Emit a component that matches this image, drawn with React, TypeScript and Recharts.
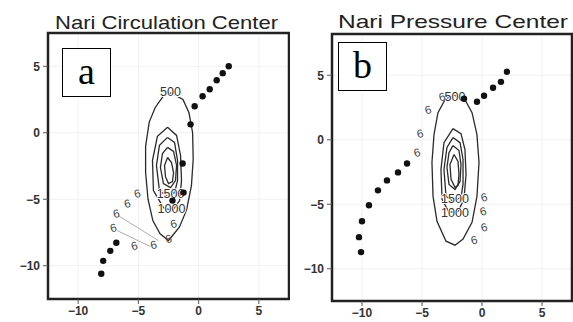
import React from "react";
import {
  ScatterChart,
  Scatter,
  XAxis,
  YAxis,
  CartesianGrid,
  ReferenceArea,
} from "recharts";

const xTicks = [-10, -5, 0, 5];
const yTicks = [-10, -5, 0, 5];

// ---- panel a: circulation center ----
const aDots = [
  { x: 2.5, y: 5.0 },
  { x: 2.0, y: 4.48 },
  { x: 1.5, y: 3.95 },
  { x: 0.92, y: 3.27 },
  { x: 0.33, y: 2.74 },
  { x: -0.33, y: 1.99 },
  { x: -0.67, y: 0.63 },
  { x: -1.33, y: -2.31 },
  { x: -1.25, y: -4.5 },
  { x: -2.17, y: -5.1 },
  { x: -6.83, y: -8.27 },
  { x: -7.33, y: -8.88 },
  { x: -7.92, y: -9.63 },
  { x: -8.08, y: -10.6 },
];

const aSixes = [
  { x: -5.08, y: -4.58 },
  { x: -5.92, y: -5.33 },
  { x: -6.83, y: -6.08 },
  { x: -7.08, y: -7.14 },
  { x: -5.33, y: -8.5 },
  { x: -3.75, y: -8.42 },
  { x: -2.08, y: -6.84 },
  { x: -2.5, y: -7.97 },
];

const aThinLines = [
  [
    { x: -6.67, y: -6.23 },
    { x: -3.33, y: -8.11 },
  ],
  [
    { x: -6.75, y: -7.36 },
    { x: -4.0, y: -8.56 },
  ],
];

const aC500 = [
  { x: -2.3, y: 3.0 }, { x: -1.3, y: 2.5 }, { x: -0.8, y: 1.5 }, { x: -0.5, y: 0 },
  { x: -0.45, y: -2 }, { x: -0.6, y: -4 }, { x: -1.0, y: -5.8 }, { x: -1.6, y: -7.1 },
  { x: -2.5, y: -8.1 }, { x: -3.2, y: -7.6 }, { x: -3.8, y: -6.6 }, { x: -4.2, y: -5 },
  { x: -4.4, y: -3 }, { x: -4.4, y: -1 }, { x: -4.1, y: 0.8 }, { x: -3.6, y: 1.9 },
  { x: -2.9, y: 2.8 }, { x: -2.3, y: 3.0 },
];
const aC1000 = [
  { x: -2.58, y: 0.41 }, { x: -1.83, y: -0.2 }, { x: -1.5, y: -1.71 }, { x: -1.42, y: -3.6 },
  { x: -1.58, y: -5.1 }, { x: -2.17, y: -5.86 }, { x: -2.92, y: -5.63 }, { x: -3.75, y: -4.35 },
  { x: -3.83, y: -2.08 }, { x: -3.42, y: -0.27 }, { x: -2.58, y: 0.41 },
];
const aC1500 = [
  { x: -2.58, y: -0.35 }, { x: -2.0, y: -0.73 }, { x: -1.75, y: -2.08 }, { x: -1.75, y: -3.6 },
  { x: -2.0, y: -4.5 }, { x: -2.58, y: -4.8 }, { x: -3.25, y: -4.35 }, { x: -3.5, y: -2.46 },
  { x: -3.25, y: -0.95 }, { x: -2.58, y: -0.35 },
];
const aC2000 = [
  { x: -2.58, y: -1.1 }, { x: -2.08, y: -1.4 }, { x: -1.83, y: -2.46 }, { x: -1.92, y: -3.6 },
  { x: -2.33, y: -4.12 }, { x: -2.92, y: -3.82 }, { x: -3.17, y: -2.6 }, { x: -3.0, y: -1.56 },
  { x: -2.58, y: -1.1 },
];
const aC2500 = [
  { x: -2.58, y: -1.86 }, { x: -2.25, y: -2.24 }, { x: -2.08, y: -3.0 }, { x: -2.17, y: -3.67 },
  { x: -2.5, y: -3.82 }, { x: -2.75, y: -3.3 }, { x: -2.83, y: -2.46 }, { x: -2.58, y: -1.86 },
];
const aLabels = [
  { x: -2.33, y: 3.05, text: "500" },
  { x: -2.33, y: -4.58, text: "1500" },
  { x: -2.25, y: -5.7, text: "1000" },
];

// ---- panel b: pressure center ----
const bDots = [
  { x: 2.08, y: 5.27 },
  { x: 1.58, y: 4.49 },
  { x: 0.92, y: 4.03 },
  { x: 0.17, y: 3.41 },
  { x: -0.42, y: 2.95 },
  { x: -1.5, y: 3.18 },
  { x: -6.25, y: -1.84 },
  { x: -7.0, y: -2.53 },
  { x: -7.92, y: -3.15 },
  { x: -8.67, y: -3.92 },
  { x: -9.42, y: -5.08 },
  { x: -10.0, y: -6.32 },
  { x: -10.25, y: -7.55 },
  { x: -10.08, y: -8.71 },
];

const bSixes = [
  { x: -4.5, y: 2.33 },
  { x: -5.17, y: 0.48 },
  { x: -5.42, y: -0.99 },
  { x: 0.17, y: -4.46 },
  { x: 0.08, y: -5.55 },
  { x: 0.17, y: -6.78 },
  { x: -0.67, y: -7.78 },
  { x: -3.33, y: 3.33 },
];

const bC500 = [
  { x: -2.42, y: 3.49 }, { x: -1.42, y: 3.1 }, { x: -0.83, y: 2.1 }, { x: -0.42, y: 0.4 },
  { x: -0.25, y: -1.76 }, { x: -0.42, y: -4.39 }, { x: -0.83, y: -6.4 }, { x: -1.58, y: -7.7 },
  { x: -2.25, y: -8.17 }, { x: -3.0, y: -7.86 }, { x: -3.75, y: -6.32 }, { x: -4.08, y: -4.39 },
  { x: -4.17, y: -1.76 }, { x: -4.0, y: 0.4 }, { x: -3.67, y: 2.1 }, { x: -3.08, y: 3.1 },
  { x: -2.42, y: 3.49 },
];
const bC1000 = [
  { x: -2.42, y: 0.86 }, { x: -1.75, y: 0.48 }, { x: -1.42, y: -0.76 }, { x: -1.33, y: -2.69 },
  { x: -1.5, y: -4.62 }, { x: -2.0, y: -5.55 }, { x: -2.75, y: -5.62 }, { x: -3.33, y: -4.62 },
  { x: -3.42, y: -2.3 }, { x: -3.17, y: -0.22 }, { x: -2.42, y: 0.86 },
];
const bC1500 = [
  { x: -2.42, y: 0.17 }, { x: -1.83, y: -0.22 }, { x: -1.58, y: -1.53 }, { x: -1.58, y: -3.46 },
  { x: -1.75, y: -4.46 }, { x: -2.42, y: -4.77 }, { x: -3.0, y: -4.39 }, { x: -3.17, y: -2.3 },
  { x: -2.92, y: -0.6 }, { x: -2.42, y: 0.17 },
];
const bC2000 = [
  { x: -2.42, y: -0.45 }, { x: -1.92, y: -0.83 }, { x: -1.75, y: -1.92 }, { x: -1.83, y: -3.23 },
  { x: -2.25, y: -3.85 }, { x: -2.75, y: -3.46 }, { x: -2.92, y: -2.15 }, { x: -2.75, y: -1.0 },
  { x: -2.42, y: -0.45 },
];
const bC2500 = [
  { x: -2.33, y: -1.14 }, { x: -2.0, y: -1.68 }, { x: -1.92, y: -2.69 }, { x: -2.0, y: -3.54 },
  { x: -2.25, y: -3.69 }, { x: -2.58, y: -3.07 }, { x: -2.67, y: -1.92 }, { x: -2.33, y: -1.14 },
];
const bLabels = [
  { x: -2.25, y: 3.3, text: "500" },
  { x: -2.25, y: -4.62, text: "1500" },
  { x: -2.25, y: -5.7, text: "1000" },
];

const FONT = "'Liberation Sans', Arial, sans-serif";
const fmt = (v: number) => String(v).replace("-", "\u2212");

const noShape = () => <g />;
const dotShape = (p: any) => <circle cx={p.cx} cy={p.cy} r={3.2} fill="#111" />;
const sixShape = (p: any) => (
  <text
    x={p.cx}
    y={p.cy}
    textAnchor="middle"
    dominantBaseline="central"
    fontSize={11.5}
    fontFamily={FONT}
    fill="#444"
    transform={`rotate(-15 ${p.cx} ${p.cy})`}
  >
    6
  </text>
);
const labelShape = (p: any) => (
  <text
    x={p.cx}
    y={p.cy}
    textAnchor="middle"
    dominantBaseline="central"
    fontSize={12.5}
    fontFamily={FONT}
    fill="#333"
    stroke="#fff"
    strokeWidth={2}
    paintOrder="stroke"
  >
    {p.payload?.text ?? p.text}
  </text>
);

interface PanelProps {
  left: number;
  width: number;
  top: number;
  xAxisHeight: number;
  yMax: number;
  dots: { x: number; y: number }[];
  sixes: { x: number; y: number }[];
  contours: { x: number; y: number }[][];
  thin: { x: number; y: number }[][];
  labels: { x: number; y: number; text: string }[];
}

function Panel({ left, width, top, xAxisHeight, yMax, dots, sixes, contours, thin, labels }: PanelProps) {
  const tick = { fontSize: 12, fill: "#333", fontWeight: "bold", fontFamily: FONT };
  return (
    <div style={{ position: "absolute", left, top: 0 }}>
      <ScatterChart width={width} height={322} margin={{ top, right: 1, bottom: 0, left: 0 }}>
        <CartesianGrid stroke="#f1f1f1" />
        <XAxis
          type="number"
          dataKey="x"
          domain={[-12.5, 7.5]}
          ticks={xTicks}
          interval={0}
          allowDataOverflow
          axisLine={false}
          tickLine={{ stroke: "#555" }}
          tickSize={5}
          tickMargin={2}
          height={xAxisHeight}
          tick={tick}
          tickFormatter={fmt}
        />
        <YAxis
          type="number"
          dataKey="y"
          domain={[-12.5, yMax]}
          ticks={yTicks}
          interval={0}
          allowDataOverflow
          axisLine={false}
          tickLine={{ stroke: "#555" }}
          tickSize={5}
          tickMargin={3}
          width={48}
          tick={tick}
          tickFormatter={fmt}
        />
        {thin.map((d, i) => (
          <Scatter
            key={`thin-${i}`}
            data={d}
            line={{ stroke: "#999", strokeWidth: 0.8 }}
            shape={noShape}
            isAnimationActive={false}
          />
        ))}
        {contours.map((d, i) => (
          <Scatter
            key={`c-${i}`}
            data={d}
            line={{ stroke: "#2a2a2a", strokeWidth: 1.3 }}
            shape={noShape}
            isAnimationActive={false}
          />
        ))}
        <Scatter data={labels} shape={labelShape} isAnimationActive={false} />
        <Scatter data={sixes} shape={sixShape} isAnimationActive={false} />
        <Scatter data={dots} shape={dotShape} isAnimationActive={false} />
        <ReferenceArea
          x1={-12.5}
          x2={7.5}
          y1={-12.5}
          y2={yMax}
          fill="none"
          stroke="#222"
          strokeWidth={2.5}
          ifOverflow="visible"
        />
      </ScatterChart>
    </div>
  );
}

const boxStyle = (left: number, top: number): React.CSSProperties => ({
  position: "absolute",
  left,
  top,
  width: 47,
  height: 47,
  border: "1.5px solid #000",
  background: "#fff",
  fontFamily: "'Liberation Serif', 'Times New Roman', serif",
  fontSize: 38,
  lineHeight: "44px",
  textAlign: "center",
});

export default function App() {
  return (
    <div style={{ position: "absolute", left: 0, top: 0, width: 573, height: 322, background: "#fff", overflow: "hidden" }}>
      <Panel
        left={0}
        width={290}
        top={33}
        xAxisHeight={23}
        yMax={7.5}
        dots={aDots}
        sixes={aSixes}
        contours={[aC500, aC1000, aC1500, aC2000, aC2500]}
        thin={aThinLines}
        labels={aLabels}
      />
      <Panel
        left={284}
        width={289}
        top={34}
        xAxisHeight={21}
        yMax={8.2}
        dots={bDots}
        sixes={bSixes}
        contours={[bC500, bC1000, bC1500, bC2000, bC2500]}
        thin={[]}
        labels={bLabels}
      />
      <svg width={573} height={32} style={{ position: "absolute", left: 0, top: 0 }}>
        <text x={55} y={29} fontSize={19} fontFamily={FONT} fill="#222" textLength={223} lengthAdjust="spacingAndGlyphs">
          Nari Circulation Center
        </text>
        <text x={338} y={28} fontSize={19} fontFamily={FONT} fill="#222" textLength={230} lengthAdjust="spacingAndGlyphs">
          Nari Pressure Center
        </text>
      </svg>
      <div style={boxStyle(62, 48)}>a</div>
      <div style={boxStyle(338, 42)}>b</div>
    </div>
  );
}
